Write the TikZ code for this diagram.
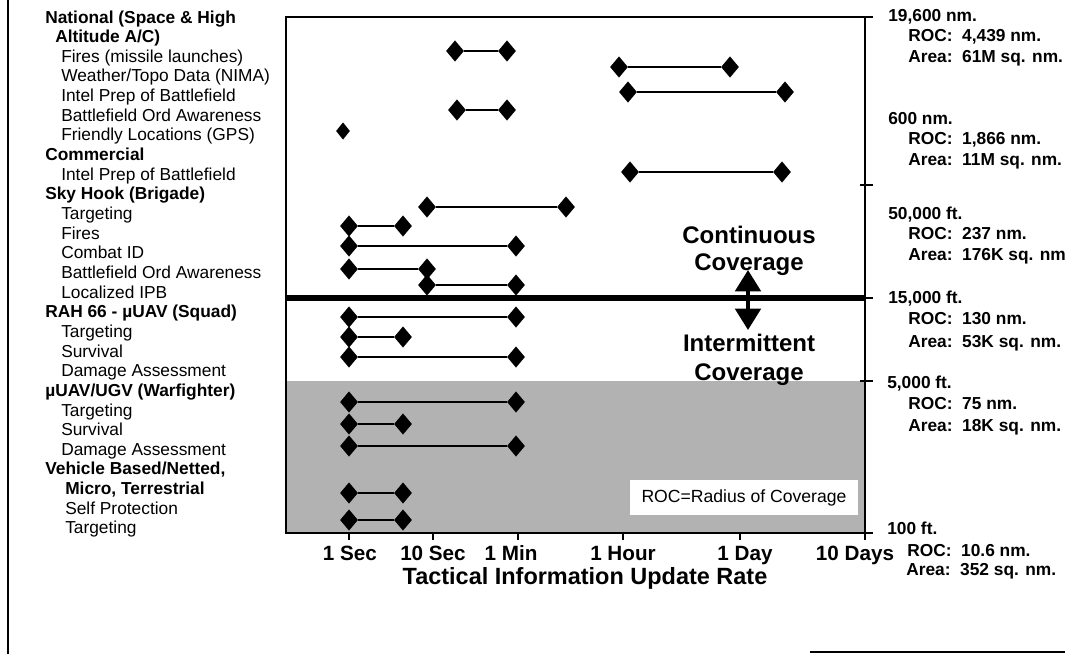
\documentclass[tikz,border=0pt]{standalone}
\usepackage{fontspec}
\setmainfont{Liberation Sans}
\usetikzlibrary{shapes.geometric,arrows.meta}
\definecolor{shadegray}{gray}{0.70}
\tikzset{
  lbl/.style={anchor=base west, inner sep=0pt, font=\fontsize{13}{15}\selectfont},
  lblb/.style={anchor=base west, inner sep=0pt, font=\fontsize{13}{15}\selectfont\bfseries},
  rlbl/.style={anchor=base west, inner sep=0pt, font=\fontsize{13}{15}\selectfont\bfseries},
  xlbl/.style={anchor=base, inner sep=0pt, font=\fontsize{15.5}{17}\selectfont\bfseries},
  bigt/.style={anchor=base, inner sep=0pt, font=\fontsize{18}{20}\selectfont\bfseries},
  dia/.style={diamond, fill=black, draw=none, inner sep=0pt, minimum width=13.5pt, minimum height=16pt},
  smalldia/.style={dia, minimum width=10.5pt, minimum height=13pt},
  link/.style={line width=1.4pt},
  frameline/.style={line width=1.3pt},
  tick/.style={line width=1pt},
}
\begin{document}
\begin{tikzpicture}[x=0.75pt,y=-0.75pt]
\useasboundingbox (0,0) rectangle (1065,654);
% outer page border fragments
\draw[line width=1.5pt] (8,0) -- (8,654);
\draw[line width=2pt] (810,652) -- (1065,652);
% shaded band
\fill[shadegray] (286,381) rectangle (865,533);
\node[fill=white, inner sep=0pt, minimum width=171pt, minimum height=26pt,
      font=\fontsize{13.2}{15}\selectfont] (roc) at (744,497.5) {ROC=Radius of Coverage};
% frame
\draw[frameline] (286,17) rectangle (865,533);
\draw[line width=1.8pt] (286,533) -- (865,533);
\draw[line width=3.8pt] (286,298) -- (865,298);
% axis ticks
\foreach \x in {349,433,518,623,740,865} \draw[tick] (\x,533) -- (\x,540);
\foreach \y in {17,185,298,381,533} \draw[tick] (860,\y) -- (873,\y);
% data rows
\foreach \n/\y/\a/\b in {
  r1/51/455/507, r2/67/619/730, r3/92/628/785, r4/110/457/507,
  r6/172/630/782, r7/207/427/566, r8/226/349/403, r9/246/349/516,
  r10/269/349/427, r11/285/427/516, r12/317/349/516, r13/337/349/403,
  r14/357/349/516, r15/402/349/516, r16/424/349/403, r17/446/349/516,
  r18/493/349/403, r19/520/349/403} {
  \node[dia] (\n-a) at (\a,\y) {};
  \node[dia] (\n-b) at (\b,\y) {};
  \draw[link] (\n-a) -- (\n-b);
}
\node[smalldia] (r5-a) at (343,131) {};
% left labels
\node[lblb] (l1)  at (45,23)    {National (Space \& High};
\node[lblb] (l2)  at (55,42.65) {Altitude A/C)};
\node[lbl]  (l3)  at (61,62.3)  {Fires (missile launches)};
\node[lbl]  (l4)  at (61,81.95) {Weather/Topo Data (NIMA)};
\node[lbl]  (l5)  at (61,101.6) {Intel Prep of Battlefield};
\node[lbl]  (l6)  at (61,121.25){Battlefield Ord Awareness};
\node[lbl]  (l7)  at (61,140.9) {Friendly Locations (GPS)};
\node[lblb] (l8)  at (45,160.55){Commercial};
\node[lbl]  (l9)  at (61,180.2) {Intel Prep of Battlefield};
\node[lblb] (l10) at (45,199.85){Sky Hook (Brigade)};
\node[lbl]  (l11) at (61,219.5) {Targeting};
\node[lbl]  (l12) at (61,239.15){Fires};
\node[lbl]  (l13) at (61,258.8) {Combat ID};
\node[lbl]  (l14) at (61,278.45){Battlefield Ord Awareness};
\node[lbl]  (l15) at (61,298.1) {Localized IPB};
\node[lblb] (l16) at (45,317.75){RAH 66 - µUAV (Squad)};
\node[lbl]  (l17) at (61,337.4) {Targeting};
\node[lbl]  (l18) at (61,357.05){Survival};
\node[lbl]  (l19) at (61,376.7) {Damage Assessment};
\node[lblb] (l20) at (45,396.35){µUAV/UGV (Warfighter)};
\node[lbl]  (l21) at (61,416)   {Targeting};
\node[lbl]  (l22) at (61,435.65){Survival};
\node[lbl]  (l23) at (61,455.3) {Damage Assessment};
\node[lblb] (l24) at (45,474.95){Vehicle Based/Netted,};
\node[lblb] (l25) at (65,494.6) {Micro, Terrestrial};
\node[lbl]  (l26) at (65,514.25){Self Protection};
\node[lbl]  (l27) at (65,533.9) {Targeting};
% right labels
\node[rlbl] (g1)  at (888,21)   {19,600 nm.};
\node[rlbl] (g1r) at (908,41.5) {ROC:\ \ 4,439 nm.};
\node[rlbl] (g1a) at (908,62)   {Area:\ \ 61M sq. nm.};
\node[rlbl] (g2)  at (888,124)  {600 nm.};
\node[rlbl] (g2r) at (908,144.5){ROC:\ \ 1,866 nm.};
\node[rlbl] (g2a) at (908,165)  {Area:\ \ 11M sq. nm.};
\node[rlbl] (g3)  at (888,219)  {50,000 ft.};
\node[rlbl] (g3r) at (908,239.5){ROC:\ \ 237 nm.};
\node[rlbl] (g3a) at (908,260)  {Area:\ \ 176K sq. nm};
\node[rlbl] (g4)  at (888,303)  {15,000 ft.};
\node[rlbl] (g4r) at (908,324)  {ROC:\ \ 130 nm.};
\node[rlbl] (g4a) at (908,347)  {Area:\ \ 53K sq. nm.};
\node[rlbl] (g5)  at (887,388)  {5,000 ft.};
\node[rlbl] (g5r) at (908,409)  {ROC:\ \ 75 nm.};
\node[rlbl] (g5a) at (908,431)  {Area:\ \ 18K sq. nm.};
\node[rlbl] (g6)  at (887,534)  {100 ft.};
\node[rlbl] (g6r) at (907,556)  {ROC:\ \ 10.6 nm.};
\node[rlbl] (g6a) at (906,575)  {Area:\ \ 352 sq. nm.};
% x axis labels
\node[xlbl] (x1) at (350,560) {1 Sec};
\node[xlbl] (x2) at (433,560) {10 Sec};
\node[xlbl] (x3) at (511,560) {1 Min};
\node[xlbl] (x4) at (623,560) {1 Hour};
\node[xlbl] (x5) at (745,560) {1 Day};
\node[xlbl] (x6) at (855,560) {10 Days};
\node[anchor=base, inner sep=0pt, font=\fontsize{17.6}{20}\selectfont\bfseries] (xt) at (585,584) {Tactical Information Update Rate};
% coverage texts and arrow
\node[bigt] (c1) at (749,243) {Continuous};
\node[bigt] (c2) at (749,270) {Coverage};
\node[bigt] (c3) at (749,351) {Intermittent};
\node[bigt] (c4) at (749,380) {Coverage};
\coordinate (au) at (748,270);
\coordinate (ad) at (748,330);
\draw[line width=3pt, {Triangle[width=19pt,length=16pt]}-{Triangle[width=19pt,length=16pt]}] (au) -- (ad);
\end{tikzpicture}
\end{document}
